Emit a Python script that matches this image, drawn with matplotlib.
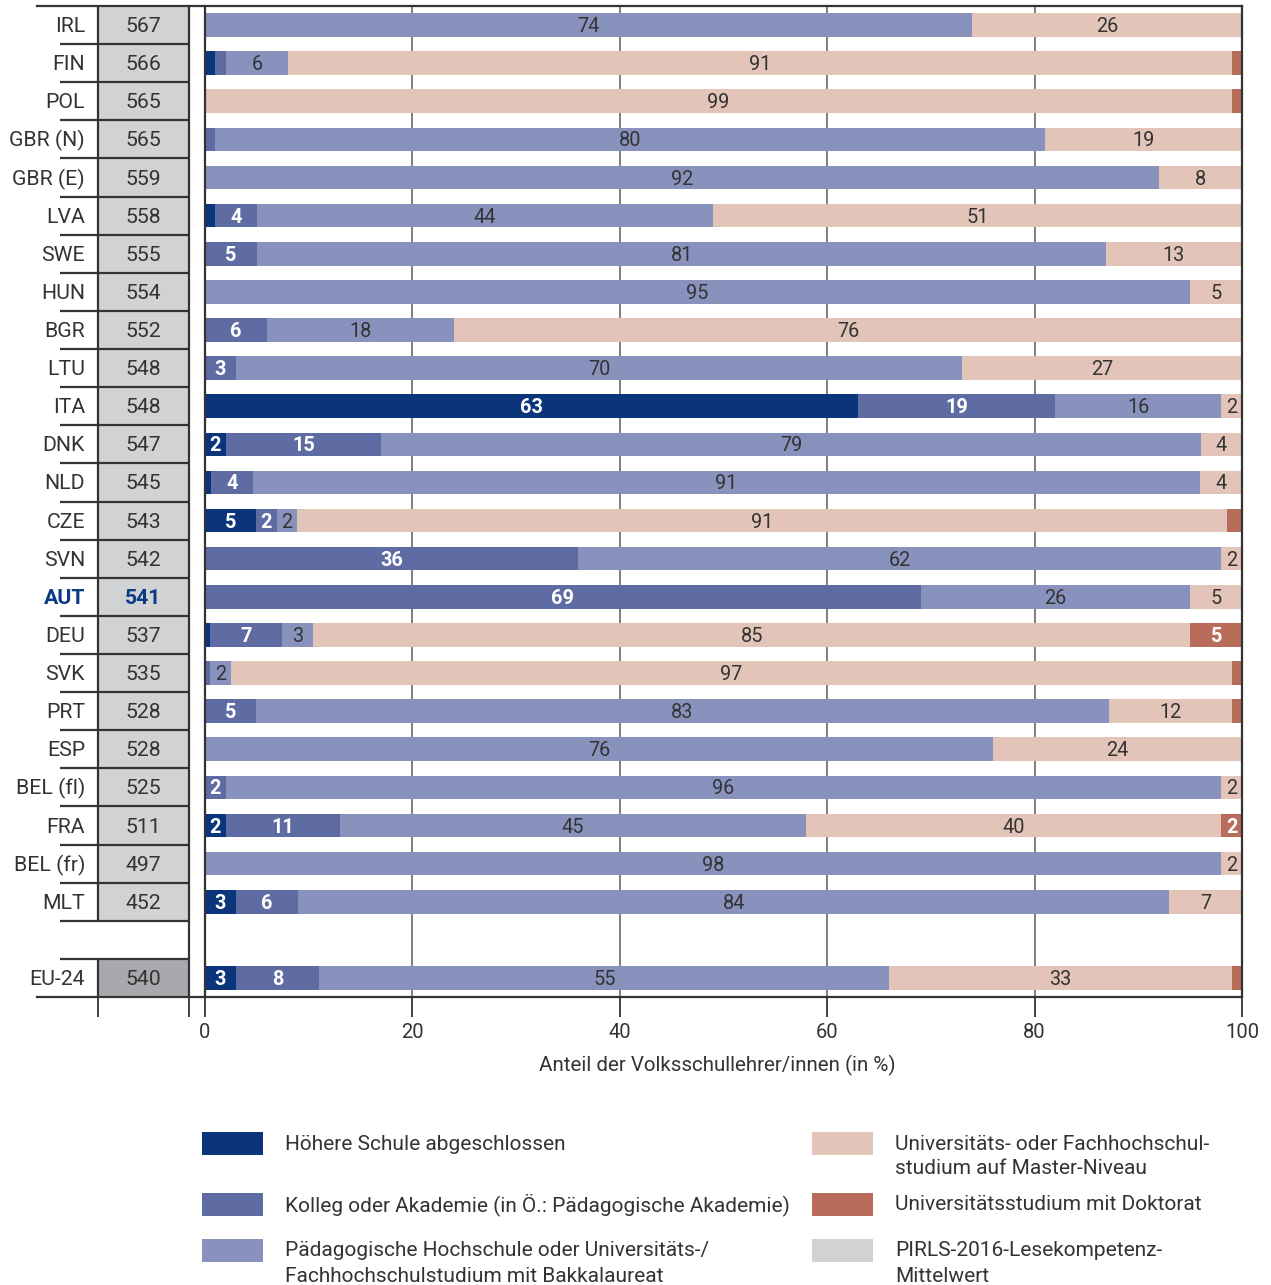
import matplotlib
matplotlib.use("Agg")
import matplotlib.pyplot as plt
from matplotlib.patches import Rectangle
import numpy as np

countries = ["IRL", "FIN", "POL", "GBR (N)", "GBR (E)", "LVA", "SWE", "HUN", "BGR", "LTU",
             "ITA", "DNK", "NLD", "CZE", "SVN", "AUT", "DEU", "SVK", "PRT", "ESP",
             "BEL (fl)", "FRA", "BEL (fr)", "MLT", "EU-24"]
scores = [567, 566, 565, 565, 559, 558, 555, 554, 552, 548, 548, 547, 545, 543, 542, 541,
          537, 535, 528, 528, 525, 511, 497, 452, 540]
hoehere = [0, 1, 0, 0, 0, 1, 0, 0, 0, 0, 63, 2, 0.6, 5, 0, 0, 0.5, 0, 0, 0, 0, 2, 0, 3, 3]
kolleg = [0, 1, 0, 1, 0, 4, 5, 0, 6, 3, 19, 15, 4, 2, 36, 69, 7, 0.5, 5, 0, 2, 11, 0, 6, 8]
bakk = [74, 6, 0, 80, 92, 44, 81, 95, 18, 70, 16, 79, 91, 2, 62, 26, 3, 2, 83, 76, 96, 45, 98, 84, 55]
master = [26, 91, 99, 19, 8, 51, 13, 5, 76, 27, 2, 4, 4, 91, 2, 5, 85, 97, 12, 24, 2, 40, 2, 7, 33]
doktorat = [0, 1, 1, 0, 0, 0, 0, 0, 0, 0, 0, 0, 0, 1.5, 0, 0, 5, 1, 1, 0, 0, 2, 0, 0, 1]

series_labels = ["Höhere Schule abgeschlossen",
                 "Kolleg oder Akademie (in Ö.: Pädagogische Akademie)",
                 "Pädagogische Hochschule oder Universitäts-/\nFachhochschulstudium mit Bakkalaureat",
                 "Universitäts- oder Fachhochschul-\nstudium auf Master-Niveau",
                 "Universitätsstudium mit Doktorat",
                 "PIRLS-2016-Lesekompetenz-\nMittelwert"]
highlight = "AUT"
xlabel = "Anteil der Volksschullehrer/innen (in %)"
xticks = [0, 20, 40, 60, 80, 100]

colors = ["#0B357B", "#5F6CA3", "#8892BD", "#E2C4B8", "#B96C59"]
text_on = ["white", "white", "#333333", "#333333", "white"]
gray_light = "#D1D2D4"
gray_dark = "#A8A9AC"
dark = "#333333"
aut_blue = "#0B3A86"

W, H = 1271, 1285
plt.rcParams["font.family"] = ["Roboto", "DejaVu Sans"]
fig = plt.figure(figsize=(W / 100, H / 100), dpi=100)

def fx(x):
    return x / W

def fy(y):
    return 1 - y / H

# axes geometry (pixels)
L, R, T, B = 37, 1242, 6, 997
ppu = (1242 - 205) / 100.0
xmin = (L - 205) / ppu
ax = fig.add_axes([fx(L), fy(B), fx(R - L), (B - T) / H])
ax.set_xlim(xmin, 100)
ax.set_ylim(25.5, -0.5)

def dx(px):
    return (px - 205) / ppu

col_l, col_r = dx(98), dx(189)
sep_l = dx(60)

n = len(countries)
ypos = list(range(n - 1)) + [n]
TY = 0.04  # slight text offset downward (data units)

data = np.array([hoehere, kolleg, bakk, master, doktorat], dtype=float)
tot = data.sum(axis=0)
norm = data / tot * 100
lefts = np.zeros(n)
for k in range(5):
    ax.barh(ypos, norm[k], left=lefts, height=0.62, color=colors[k], zorder=2, linewidth=0)
    for i in range(n):
        v = data[k, i]
        if v >= 2:
            cx = lefts[i] + norm[k, i] / 2
            ax.text(cx, ypos[i] + TY, f"{v:g}", ha="center", va="center", fontsize=14.3,
                    color=text_on[k], fontweight="bold" if text_on[k] == "white" else "normal",
                    zorder=3)
    lefts += norm[k]

# grid lines
for g in [20, 40, 60, 80]:
    ax.axvline(g, color="#6a6a6a", lw=1.2, zorder=1)
ax.axvline(0, color=dark, lw=1.6, zorder=4)
ax.axvline(col_r, color=dark, lw=1.6, zorder=4)

# score column
for i in range(n):
    y = ypos[i]
    fc = gray_dark if countries[i] == "EU-24" else gray_light
    ax.add_patch(Rectangle((col_l, y - 0.5), col_r - col_l, 1, facecolor=fc, edgecolor="none", zorder=1))
    is_h = countries[i] == highlight
    c = aut_blue if is_h else dark
    fw = "bold" if is_h else "normal"
    ax.text(dx(85), y + TY, countries[i], ha="right", va="center", fontsize=15.3, color=c, fontweight=fw)
    ax.text((col_l + col_r) / 2, y + TY, str(scores[i]), ha="center", va="center", fontsize=15.3,
            color=c, fontweight=fw)
ax.plot([col_l, col_l], [-0.5, n - 1.5], color=dark, lw=1.6, zorder=4, solid_capstyle="butt")
ax.plot([col_l, col_l], [n - 0.5, n + 0.5], color=dark, lw=1.6, zorder=4, solid_capstyle="butt")
for b in list(np.arange(0.5, n - 1, 1.0)) + [n - 0.5]:
    ax.plot([sep_l, col_r], [b, b], color=dark, lw=1.6, zorder=4, solid_capstyle="butt")

ax.spines["left"].set_visible(False)
for s in ["top", "bottom", "right"]:
    ax.spines[s].set_color(dark)
    ax.spines[s].set_linewidth(1.6)
ax.set_yticks([])
ax.set_xticks([col_l, col_r] + xticks)
ax.set_xticklabels(["", ""] + [str(t) for t in xticks])
ax.tick_params(axis="x", length=14.5, width=1.3, color=dark, labelsize=14.5, labelcolor=dark, pad=4)
ax.set_xlabel(xlabel, fontsize=14.8, color=dark, labelpad=10)
ax.xaxis.set_label_coords((dx(717) - xmin) / (100 - xmin), -0.058)

# legend
leg_colors = colors + [gray_light]
leg_pos = [(202, 1143), (202, 1204), (202, 1250), (812, 1143), (812, 1204), (812, 1250)]
for (lx, ly), c, txt in zip(leg_pos, leg_colors, series_labels):
    fig.patches.append(Rectangle((fx(lx), fy(ly + 11.5)), fx(61), 23 / H, facecolor=c,
                                 edgecolor="none", transform=fig.transFigure, figure=fig))
    for j, line in enumerate(txt.split("\n")):
        fig.text(fx(lx + 83), fy(ly + 1 + j * 25), line, ha="left", va="center", fontsize=15.0,
                 color=dark)

fig.savefig("out.png", dpi=100, facecolor="white")
